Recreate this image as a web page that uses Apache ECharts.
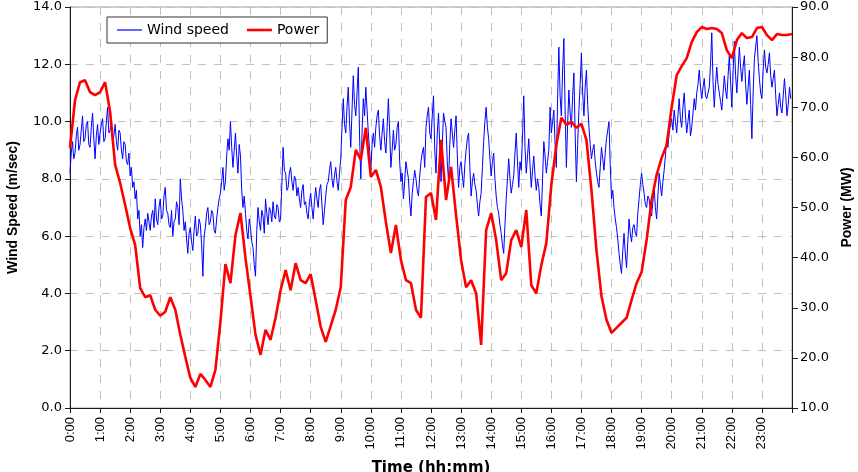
<!DOCTYPE html>
<html>
<head>
<meta charset="utf-8">
<script src="https://cdn.jsdelivr.net/npm/echarts@6/dist/echarts.min.js"></script>
<style>
html,body{margin:0;padding:0;background:#fff;}
#chart{width:858px;height:472px;}
</style>
</head>
<body>
<div id="chart"></div>
<script>
// tick labels
var hourLabels = ['0:00','1:00','2:00','3:00','4:00','5:00','6:00','7:00','8:00','9:00','10:00','11:00',
    '12:00','13:00','14:00','15:00','16:00','17:00','18:00','19:00','20:00','21:00','22:00','23:00'];
// wind speed (m/sec), every 2.5 minutes from 0:00, one row per hour
var windSpeed = [
    8.2, 8.9, 9.3, 8.7, 8.9, 9.5, 9.8, 9.0, 9.2, 9.7, 10.2, 9.3, 9.4, 9.9, 10.0, 9.2, 9.1, 9.8, 10.3, 9.4, 8.7, 9.5, 9.9, 9.2,
    9.6, 9.9, 10.1, 9.3, 9.4, 10.0, 10.5, 9.6, 9.7, 10.1, 9.2, 9.5, 9.9, 9.3, 9.0, 9.7, 9.6, 9.0, 8.7, 9.3, 9.2, 8.6, 8.5, 8.9,
    8.1, 8.4, 7.7, 7.9, 7.3, 7.6, 6.6, 6.9, 6.0, 6.4, 5.6, 6.3, 6.6, 6.2, 6.8, 6.5, 6.2, 6.7, 6.9, 6.3, 7.3, 6.6, 6.4, 7.0,
    7.3, 6.6, 6.7, 7.4, 7.7, 6.9, 6.8, 6.4, 6.3, 6.9, 6.0, 6.5, 6.6, 7.2, 7.0, 6.4, 8.0, 7.3, 6.9, 6.2, 6.5, 5.9, 5.4, 6.1,
    6.3, 5.8, 5.5, 6.2, 6.7, 6.0, 6.1, 6.6, 6.4, 5.7, 4.6, 6.0, 6.3, 6.8, 7.0, 6.4, 6.5, 6.9, 6.8, 6.2, 6.1, 6.6, 7.0, 7.3,
    7.5, 7.9, 8.4, 7.6, 7.9, 8.8, 9.4, 9.0, 10.0, 9.1, 8.4, 9.0, 9.6, 8.8, 8.2, 9.2, 8.8, 7.6, 7.0, 7.4, 6.8, 6.2, 5.9, 6.6,
    6.3, 5.8, 5.6, 5.0, 4.6, 6.2, 7.0, 6.5, 6.2, 6.9, 6.7, 6.1, 7.3, 6.8, 6.4, 7.0, 6.9, 6.5, 7.2, 6.7, 6.6, 7.1, 7.0, 6.5,
    6.6, 7.8, 9.1, 8.3, 8.2, 7.6, 7.7, 8.2, 8.4, 7.9, 7.6, 8.1, 8.0, 7.4, 7.7, 7.3, 7.0, 7.6, 7.8, 7.1, 7.2, 6.8, 6.6, 7.2,
    7.5, 7.0, 6.6, 7.2, 7.7, 7.3, 7.0, 7.6, 7.8, 7.1, 6.4, 6.9, 7.4, 7.8, 7.9, 8.3, 8.6, 8.0, 7.7, 8.1, 8.4, 7.9, 7.6, 8.2,
    8.7, 9.8, 10.8, 9.9, 9.6, 10.5, 11.2, 10.0, 9.1, 10.4, 11.6, 10.6, 10.2, 11.0, 11.9, 9.5, 8.0, 9.6, 10.8, 10.2, 11.2, 10.4, 9.6, 9.0,
    8.3, 9.2, 9.6, 9.1, 9.8, 10.2, 10.4, 9.5, 9.0, 9.6, 10.1, 9.3, 8.9, 9.8, 10.8, 9.7, 8.4, 9.0, 9.7, 9.0, 9.2, 9.8, 10.0, 8.6,
    7.9, 8.2, 7.3, 7.9, 8.6, 8.3, 8.0, 7.2, 6.7, 7.5, 7.9, 8.3, 8.0, 7.6, 7.4, 8.1, 8.6, 8.9, 9.1, 8.4, 9.8, 10.2, 10.5, 9.6,
    9.4, 10.2, 10.9, 9.0, 8.2, 9.6, 10.3, 9.1, 7.9, 9.2, 10.3, 10.0, 9.8, 8.6, 7.9, 9.2, 10.1, 9.6, 9.1, 9.7, 10.2, 8.8, 7.7, 8.4,
    8.6, 8.1, 7.7, 8.5, 9.0, 9.4, 9.6, 8.4, 7.4, 7.9, 8.2, 7.8, 7.6, 7.1, 6.7, 7.2, 7.5, 8.4, 9.3, 10.0, 10.5, 9.8, 9.4, 8.7,
    8.1, 8.6, 8.9, 8.0, 7.4, 7.0, 6.8, 6.4, 6.1, 5.7, 5.4, 6.4, 7.3, 8.0, 8.7, 8.0, 7.5, 7.8, 8.1, 8.9, 9.6, 8.6, 7.7, 8.6,
    8.3, 9.5, 10.9, 9.1, 8.2, 8.8, 9.4, 8.5, 7.7, 8.3, 8.8, 8.1, 7.6, 8.0, 7.7, 7.1, 6.7, 8.0, 9.3, 8.8, 8.2, 8.6, 9.0, 10.5,
    9.6, 10.0, 10.4, 9.2, 8.4, 10.8, 12.6, 10.9, 10.2, 11.8, 12.9, 10.4, 8.4, 9.9, 11.1, 10.3, 9.8, 10.9, 11.7, 9.6, 7.9, 9.2, 10.4, 11.3,
    12.4, 11.0, 10.2, 11.2, 11.8, 10.6, 9.8, 9.2, 8.7, 9.0, 9.2, 8.6, 8.2, 7.9, 7.7, 8.4, 9.1, 8.7, 8.3, 8.9, 9.4, 9.7, 10.0, 8.5,
    7.3, 7.6, 7.0, 6.6, 6.3, 5.9, 5.4, 5.0, 4.7, 5.5, 6.1, 5.4, 4.9, 5.8, 6.6, 6.1, 5.8, 6.3, 6.4, 6.1, 6.0, 6.8, 7.3, 7.8,
    8.2, 7.8, 7.5, 7.1, 7.0, 7.4, 7.3, 6.9, 6.7, 7.2, 7.7, 7.0, 6.6, 7.4, 8.2, 7.8, 7.4, 7.9, 8.3, 8.8, 9.4, 9.1, 9.6, 9.9,
    10.1, 9.7, 10.4, 10.0, 9.6, 10.2, 10.8, 10.1, 9.8, 10.5, 11.0, 10.2, 9.6, 10.0, 10.4, 9.5, 9.8, 10.3, 10.8, 10.4, 11.0, 11.3, 11.8, 11.2,
    10.8, 11.2, 11.5, 10.9, 10.8, 11.0, 11.2, 12.0, 13.1, 11.4, 10.5, 11.3, 11.9, 11.3, 11.0, 10.7, 10.4, 11.0, 11.6, 11.1, 10.8, 11.6, 12.3, 11.4,
    10.5, 11.7, 12.8, 11.6, 11.0, 11.8, 12.6, 11.9, 11.4, 11.9, 12.3, 11.3, 10.6, 11.2, 11.8, 10.6, 9.4, 11.0, 12.2, 12.6, 13.0, 12.1, 11.5, 11.0,
    10.8, 11.8, 12.5, 11.9, 11.7, 12.0, 12.4, 11.6, 11.2, 11.5, 11.8, 10.9, 10.2, 10.6, 11.0, 10.5, 10.3, 10.9, 11.5, 10.9, 10.2, 10.6, 11.2, 10.8
];
// power (MW), every 10 minutes from 0:00 to 24:00
var power = [
    61.9, 71.4, 75.0, 75.4, 73.0, 72.4, 73.0, 75.0, 69.1, 58.5, 54.9, 50.5,
    45.9, 42.5, 33.9, 32.1, 32.5, 29.6, 28.4, 29.2, 32.1, 29.6, 24.6, 20.2,
    16.0, 14.2, 16.8, 15.6, 14.2, 17.6, 27.2, 38.7, 34.9, 44.5, 48.9, 39.9,
    32.3, 24.6, 20.6, 25.6, 23.6, 28.0, 33.5, 37.5, 33.5, 38.9, 35.5, 34.9,
    36.7, 31.5, 26.2, 23.2, 26.4, 29.6, 34.1, 51.5, 54.1, 61.5, 59.5, 65.9,
    56.1, 57.5, 54.1, 47.1, 40.9, 46.5, 39.5, 35.5, 34.9, 29.6, 28.0, 52.1,
    52.9, 47.5, 63.5, 51.5, 58.1, 48.5, 39.5, 34.1, 35.5, 32.9, 22.6, 45.5,
    48.9, 43.5, 35.5, 36.9, 43.5, 45.5, 42.1, 49.5, 34.5, 32.9, 38.5, 42.9,
    54.5, 62.5, 67.9, 66.5, 67.1, 65.9, 66.7, 63.5, 53.5, 41.5, 32.3, 27.6,
    25.0, 26.0, 27.0, 28.0, 31.5, 34.9, 37.1, 43.5, 51.5, 56.5, 59.9, 62.5,
    70.0, 76.4, 78.2, 79.8, 83.0, 85.0, 86.0, 85.6, 85.8, 85.6, 84.8, 81.4,
    79.8, 83.4, 84.8, 83.8, 84.0, 85.8, 86.0, 84.4, 83.4, 84.6, 84.4, 84.4,
    84.6
];

var windData = [];
for (var i = 0; i < windSpeed.length; i++) windData.push([i * 2.5 / 60, windSpeed[i]]);
var powerData = [];
for (var j = 0; j < power.length; j++) powerData.push([j * 10 / 60, power[j]]);

var gridLine = {show: true, lineStyle: {color: '#c0c0c0', type: [8, 8], width: 1}};
var axisBlack = {show: true, lineStyle: {color: '#1a1a1a', width: 1}};
var labelFont = 'DejaVu Sans';

var myChart = echarts.init(document.getElementById('chart'), null, {renderer: 'canvas'});
var option = {
    animation: false,
    backgroundColor: '#fff',
    grid: {
        left: 70, right: 66, top: 7, bottom: 64,
        outerBoundsMode: 'none', containLabel: false,
        show: true, borderColor: '#a0a0a0', borderWidth: 1
    },
    legend: {
        left: 107, top: 17,
        padding: [6, 8, 6, 10],
        itemGap: 18,
        itemWidth: 25, itemHeight: 12,
        borderColor: '#333', borderWidth: 1, backgroundColor: '#fff',
        textStyle: {fontFamily: labelFont, fontSize: 14, color: '#000'},
        data: [
            {name: 'Wind speed', icon: 'path://M0 0H25V1.2H0Z'},
            {name: 'Power', icon: 'path://M0 0H25V2.6H0Z'}
        ]
    },
    xAxis: {
        type: 'value', min: 0, max: 24, interval: 1,
        name: 'Time (hh:mm)', nameLocation: 'middle', nameGap: 53,
        nameTextStyle: {fontFamily: 'DejaVu Sans', fontWeight: 'bold', fontSize: 15, color: '#000'},
        axisLine: axisBlack,
        axisTick: {show: true, length: 5, lineStyle: {color: '#1a1a1a'}},
        axisLabel: {
            rotate: 90, margin: 9, color: '#000',
            fontFamily: 'Liberation Sans', fontSize: 13,
            formatter: function (v) { return hourLabels[v] || ''; }
        },
        splitLine: gridLine
    },
    yAxis: [
        {
            type: 'value', min: 0, max: 14, interval: 2,
            name: 'Wind Speed (m/sec)', nameLocation: 'middle', nameGap: 50, nameRotate: 90,
            nameTextStyle: {fontFamily: 'Liberation Sans', fontWeight: 'bold', fontSize: 14, color: '#000'},
            axisLine: axisBlack,
            axisTick: {show: true, length: 5, lineStyle: {color: '#1a1a1a'}},
            axisLabel: {
                margin: 8, color: '#000', fontFamily: labelFont, fontSize: 13,
                formatter: function (v) { return v.toFixed(1); }
            },
            splitLine: gridLine
        },
        {
            type: 'value', min: 10, max: 90, interval: 10, position: 'right',
            name: 'Power (MW)', nameLocation: 'middle', nameGap: 48, nameRotate: 90,
            nameTextStyle: {fontFamily: 'Liberation Sans', fontWeight: 'bold', fontSize: 14, color: '#000'},
            axisLine: axisBlack,
            axisTick: {show: true, length: 6, lineStyle: {color: '#1a1a1a'}},
            axisLabel: {
                margin: 8, color: '#000', fontFamily: labelFont, fontSize: 13,
                formatter: function (v) { return v.toFixed(1); }
            },
            splitLine: {show: false}
        }
    ],
    series: [
        {
            name: 'Wind speed', type: 'line', yAxisIndex: 0,
            data: windData, symbol: 'none',
            lineStyle: {color: '#0000ff', width: 1},
            itemStyle: {color: '#0000ff'}
        },
        {
            name: 'Power', type: 'line', yAxisIndex: 1,
            data: powerData, symbol: 'none',
            lineStyle: {color: '#ff0000', width: 2.6},
            itemStyle: {color: '#ff0000'}
        }
    ]
};
myChart.setOption(option);
</script>
</body>
</html>
